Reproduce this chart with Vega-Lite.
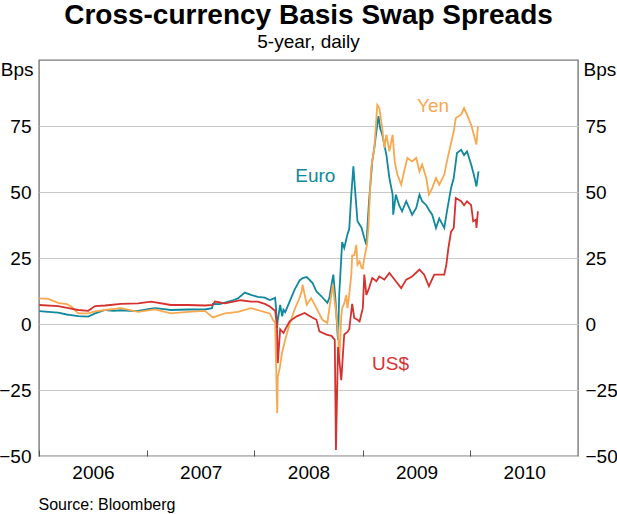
{
  "$schema": "https://vega.github.io/schema/vega-lite/v6.json",
  "width": 539,
  "height": 396,
  "autosize": {"type": "none"},
  "padding": {"left": 39, "top": 60, "right": 39, "bottom": 58},
  "background": "#ffffff",
  "title": {
    "text": "Cross-currency Basis Swap Spreads",
    "subtitle": "5-year, daily",
    "anchor": "middle",
    "frame": "group",
    "font": "Liberation Sans",
    "fontSize": 28,
    "fontWeight": "bold",
    "color": "#000000",
    "subtitleFont": "Liberation Sans",
    "subtitleFontSize": 19,
    "subtitleColor": "#000000",
    "subtitlePadding": 3,
    "offset": 8
  },
  "config": {
    "view": {"stroke": "#7a7a7a", "strokeWidth": 1.4},
    "axis": {
      "labelFont": "Liberation Sans",
      "titleFont": "Liberation Sans",
      "labelColor": "#000000",
      "titleColor": "#000000",
      "titleFontWeight": "normal"
    }
  },
  "datasets": {
    "series": [
      {"series": "Euro", "date": "2006-01-02", "value": 4.9},
      {"series": "Euro", "date": "2006-02-01", "value": 4.6},
      {"series": "Euro", "date": "2006-03-07", "value": 4.3},
      {"series": "Euro", "date": "2006-04-05", "value": 3.6},
      {"series": "Euro", "date": "2006-04-20", "value": 3.4},
      {"series": "Euro", "date": "2006-05-14", "value": 3.0},
      {"series": "Euro", "date": "2006-06-17", "value": 2.8},
      {"series": "Euro", "date": "2006-07-10", "value": 4.0},
      {"series": "Euro", "date": "2006-08-13", "value": 5.3},
      {"series": "Euro", "date": "2006-09-10", "value": 5.0},
      {"series": "Euro", "date": "2006-10-06", "value": 5.2},
      {"series": "Euro", "date": "2006-11-05", "value": 5.0},
      {"series": "Euro", "date": "2006-12-03", "value": 5.0},
      {"series": "Euro", "date": "2007-01-16", "value": 5.8},
      {"series": "Euro", "date": "2007-01-29", "value": 6.0},
      {"series": "Euro", "date": "2007-03-01", "value": 5.6},
      {"series": "Euro", "date": "2007-03-24", "value": 5.3},
      {"series": "Euro", "date": "2007-05-21", "value": 5.5},
      {"series": "Euro", "date": "2007-06-20", "value": 5.5},
      {"series": "Euro", "date": "2007-07-17", "value": 5.5},
      {"series": "Euro", "date": "2007-08-10", "value": 6.0},
      {"series": "Euro", "date": "2007-08-13", "value": 7.6},
      {"series": "Euro", "date": "2007-09-05", "value": 7.5},
      {"series": "Euro", "date": "2007-09-23", "value": 8.1},
      {"series": "Euro", "date": "2007-10-20", "value": 9.0},
      {"series": "Euro", "date": "2007-11-06", "value": 9.7},
      {"series": "Euro", "date": "2007-11-29", "value": 11.9},
      {"series": "Euro", "date": "2007-12-20", "value": 11.0},
      {"series": "Euro", "date": "2008-01-12", "value": 10.3},
      {"series": "Euro", "date": "2008-02-05", "value": 10.0},
      {"series": "Euro", "date": "2008-02-22", "value": 9.1},
      {"series": "Euro", "date": "2008-03-11", "value": 9.9},
      {"series": "Euro", "date": "2008-03-14", "value": 6.0},
      {"series": "Euro", "date": "2008-03-17", "value": -1.5},
      {"series": "Euro", "date": "2008-03-20", "value": 1.5},
      {"series": "Euro", "date": "2008-03-28", "value": 7.2},
      {"series": "Euro", "date": "2008-04-04", "value": 2.9},
      {"series": "Euro", "date": "2008-04-08", "value": 5.4},
      {"series": "Euro", "date": "2008-04-14", "value": 4.5},
      {"series": "Euro", "date": "2008-04-29", "value": 8.5},
      {"series": "Euro", "date": "2008-05-16", "value": 13.0},
      {"series": "Euro", "date": "2008-06-02", "value": 16.5},
      {"series": "Euro", "date": "2008-06-12", "value": 17.4},
      {"series": "Euro", "date": "2008-06-26", "value": 17.8},
      {"series": "Euro", "date": "2008-07-16", "value": 15.5},
      {"series": "Euro", "date": "2008-07-29", "value": 12.3},
      {"series": "Euro", "date": "2008-08-15", "value": 10.5},
      {"series": "Euro", "date": "2008-08-25", "value": 9.2},
      {"series": "Euro", "date": "2008-09-04", "value": 8.0},
      {"series": "Euro", "date": "2008-09-11", "value": 10.0},
      {"series": "Euro", "date": "2008-09-18", "value": 14.9},
      {"series": "Euro", "date": "2008-09-24", "value": 18.7},
      {"series": "Euro", "date": "2008-10-01", "value": 9.8},
      {"series": "Euro", "date": "2008-10-08", "value": -3.0},
      {"series": "Euro", "date": "2008-10-10", "value": -6.0},
      {"series": "Euro", "date": "2008-10-14", "value": 11.0},
      {"series": "Euro", "date": "2008-10-21", "value": 25.0},
      {"series": "Euro", "date": "2008-10-24", "value": 31.0},
      {"series": "Euro", "date": "2008-10-31", "value": 28.8},
      {"series": "Euro", "date": "2008-11-11", "value": 34.0},
      {"series": "Euro", "date": "2008-11-17", "value": 36.0},
      {"series": "Euro", "date": "2008-11-24", "value": 49.0},
      {"series": "Euro", "date": "2008-12-01", "value": 59.7},
      {"series": "Euro", "date": "2008-12-08", "value": 49.0},
      {"series": "Euro", "date": "2008-12-15", "value": 38.9},
      {"series": "Euro", "date": "2008-12-29", "value": 36.4},
      {"series": "Euro", "date": "2009-01-07", "value": 32.6},
      {"series": "Euro", "date": "2009-01-14", "value": 30.0},
      {"series": "Euro", "date": "2009-01-23", "value": 46.5},
      {"series": "Euro", "date": "2009-02-03", "value": 61.6},
      {"series": "Euro", "date": "2009-02-10", "value": 66.7},
      {"series": "Euro", "date": "2009-02-17", "value": 73.0},
      {"series": "Euro", "date": "2009-02-24", "value": 78.7},
      {"series": "Euro", "date": "2009-03-02", "value": 74.0},
      {"series": "Euro", "date": "2009-03-09", "value": 71.7},
      {"series": "Euro", "date": "2009-03-23", "value": 64.0},
      {"series": "Euro", "date": "2009-04-02", "value": 55.3},
      {"series": "Euro", "date": "2009-04-13", "value": 49.0},
      {"series": "Euro", "date": "2009-04-15", "value": 41.4},
      {"series": "Euro", "date": "2009-04-24", "value": 49.0},
      {"series": "Euro", "date": "2009-05-05", "value": 45.0},
      {"series": "Euro", "date": "2009-05-15", "value": 42.7},
      {"series": "Euro", "date": "2009-05-29", "value": 46.5},
      {"series": "Euro", "date": "2009-06-08", "value": 44.0},
      {"series": "Euro", "date": "2009-06-18", "value": 41.4},
      {"series": "Euro", "date": "2009-07-02", "value": 44.0},
      {"series": "Euro", "date": "2009-07-13", "value": 49.0},
      {"series": "Euro", "date": "2009-07-22", "value": 46.5},
      {"series": "Euro", "date": "2009-08-05", "value": 45.0},
      {"series": "Euro", "date": "2009-08-14", "value": 43.3},
      {"series": "Euro", "date": "2009-08-25", "value": 41.4},
      {"series": "Euro", "date": "2009-09-07", "value": 36.4},
      {"series": "Euro", "date": "2009-09-18", "value": 40.0},
      {"series": "Euro", "date": "2009-10-05", "value": 36.4},
      {"series": "Euro", "date": "2009-10-14", "value": 42.7},
      {"series": "Euro", "date": "2009-10-28", "value": 51.5},
      {"series": "Euro", "date": "2009-11-06", "value": 55.3},
      {"series": "Euro", "date": "2009-11-17", "value": 64.8},
      {"series": "Euro", "date": "2009-12-01", "value": 66.0},
      {"series": "Euro", "date": "2009-12-11", "value": 64.0},
      {"series": "Euro", "date": "2009-12-21", "value": 65.4},
      {"series": "Euro", "date": "2010-01-04", "value": 60.4},
      {"series": "Euro", "date": "2010-01-13", "value": 56.6},
      {"series": "Euro", "date": "2010-01-22", "value": 52.1},
      {"series": "Euro", "date": "2010-01-29", "value": 57.8},

      {"series": "Yen", "date": "2006-01-02", "value": 9.7},
      {"series": "Yen", "date": "2006-02-01", "value": 9.5},
      {"series": "Yen", "date": "2006-03-07", "value": 8.0},
      {"series": "Yen", "date": "2006-04-05", "value": 7.5},
      {"series": "Yen", "date": "2006-04-20", "value": 6.6},
      {"series": "Yen", "date": "2006-05-14", "value": 4.0},
      {"series": "Yen", "date": "2006-06-17", "value": 4.0},
      {"series": "Yen", "date": "2006-07-10", "value": 4.8},
      {"series": "Yen", "date": "2006-08-13", "value": 5.3},
      {"series": "Yen", "date": "2006-10-06", "value": 6.0},
      {"series": "Yen", "date": "2006-12-03", "value": 4.6},
      {"series": "Yen", "date": "2007-01-29", "value": 5.5},
      {"series": "Yen", "date": "2007-03-24", "value": 4.0},
      {"series": "Yen", "date": "2007-05-21", "value": 4.6},
      {"series": "Yen", "date": "2007-07-17", "value": 5.0},
      {"series": "Yen", "date": "2007-08-13", "value": 2.5},
      {"series": "Yen", "date": "2007-09-23", "value": 4.0},
      {"series": "Yen", "date": "2007-11-06", "value": 4.6},
      {"series": "Yen", "date": "2007-12-20", "value": 6.0},
      {"series": "Yen", "date": "2008-01-12", "value": 5.3},
      {"series": "Yen", "date": "2008-02-05", "value": 4.5},
      {"series": "Yen", "date": "2008-02-22", "value": 4.0},
      {"series": "Yen", "date": "2008-03-04", "value": 1.5},
      {"series": "Yen", "date": "2008-03-11", "value": 0.5},
      {"series": "Yen", "date": "2008-03-14", "value": -14.8},
      {"series": "Yen", "date": "2008-03-18", "value": -33.8},
      {"series": "Yen", "date": "2008-03-20", "value": -20.0},
      {"series": "Yen", "date": "2008-03-26", "value": -17.0},
      {"series": "Yen", "date": "2008-04-04", "value": -10.6},
      {"series": "Yen", "date": "2008-04-14", "value": -6.0},
      {"series": "Yen", "date": "2008-04-29", "value": 0.0},
      {"series": "Yen", "date": "2008-05-16", "value": 5.5},
      {"series": "Yen", "date": "2008-06-02", "value": 10.0},
      {"series": "Yen", "date": "2008-06-09", "value": 12.4},
      {"series": "Yen", "date": "2008-06-12", "value": 14.9},
      {"series": "Yen", "date": "2008-06-26", "value": 7.3},
      {"series": "Yen", "date": "2008-07-11", "value": 9.8},
      {"series": "Yen", "date": "2008-07-29", "value": 6.0},
      {"series": "Yen", "date": "2008-08-18", "value": 1.6},
      {"series": "Yen", "date": "2008-09-04", "value": 0.4},
      {"series": "Yen", "date": "2008-09-22", "value": 14.9},
      {"series": "Yen", "date": "2008-10-03", "value": 4.8},
      {"series": "Yen", "date": "2008-10-10", "value": -2.8},
      {"series": "Yen", "date": "2008-10-14", "value": -15.0},
      {"series": "Yen", "date": "2008-10-21", "value": 3.0},
      {"series": "Yen", "date": "2008-10-24", "value": 6.0},
      {"series": "Yen", "date": "2008-10-31", "value": 7.8},
      {"series": "Yen", "date": "2008-11-07", "value": 11.0},
      {"series": "Yen", "date": "2008-11-11", "value": 6.0},
      {"series": "Yen", "date": "2008-11-17", "value": 11.0},
      {"series": "Yen", "date": "2008-11-24", "value": 18.7},
      {"series": "Yen", "date": "2008-11-27", "value": 26.0},
      {"series": "Yen", "date": "2008-12-04", "value": 26.0},
      {"series": "Yen", "date": "2008-12-11", "value": 30.0},
      {"series": "Yen", "date": "2008-12-15", "value": 22.5},
      {"series": "Yen", "date": "2008-12-22", "value": 23.7},
      {"series": "Yen", "date": "2008-12-29", "value": 21.2},
      {"series": "Yen", "date": "2009-01-02", "value": 21.0},
      {"series": "Yen", "date": "2009-01-07", "value": 25.0},
      {"series": "Yen", "date": "2009-01-14", "value": 28.8},
      {"series": "Yen", "date": "2009-01-16", "value": 30.0},
      {"series": "Yen", "date": "2009-01-21", "value": 36.4},
      {"series": "Yen", "date": "2009-01-30", "value": 59.0},
      {"series": "Yen", "date": "2009-02-10", "value": 66.7},
      {"series": "Yen", "date": "2009-02-20", "value": 83.0},
      {"series": "Yen", "date": "2009-02-27", "value": 81.8},
      {"series": "Yen", "date": "2009-03-09", "value": 74.0},
      {"series": "Yen", "date": "2009-03-16", "value": 66.7},
      {"series": "Yen", "date": "2009-03-23", "value": 71.7},
      {"series": "Yen", "date": "2009-04-02", "value": 65.4},
      {"series": "Yen", "date": "2009-04-13", "value": 71.7},
      {"series": "Yen", "date": "2009-04-20", "value": 61.6},
      {"series": "Yen", "date": "2009-04-29", "value": 56.6},
      {"series": "Yen", "date": "2009-05-12", "value": 52.8},
      {"series": "Yen", "date": "2009-05-22", "value": 57.8},
      {"series": "Yen", "date": "2009-06-02", "value": 62.9},
      {"series": "Yen", "date": "2009-06-18", "value": 61.6},
      {"series": "Yen", "date": "2009-07-02", "value": 62.9},
      {"series": "Yen", "date": "2009-07-13", "value": 57.8},
      {"series": "Yen", "date": "2009-07-22", "value": 60.4},
      {"series": "Yen", "date": "2009-08-05", "value": 55.3},
      {"series": "Yen", "date": "2009-08-14", "value": 49.0},
      {"series": "Yen", "date": "2009-08-25", "value": 51.5},
      {"series": "Yen", "date": "2009-09-07", "value": 55.3},
      {"series": "Yen", "date": "2009-09-18", "value": 52.8},
      {"series": "Yen", "date": "2009-10-05", "value": 56.6},
      {"series": "Yen", "date": "2009-10-14", "value": 61.6},
      {"series": "Yen", "date": "2009-10-28", "value": 68.6},
      {"series": "Yen", "date": "2009-11-06", "value": 73.0},
      {"series": "Yen", "date": "2009-11-13", "value": 78.0},
      {"series": "Yen", "date": "2009-12-01", "value": 79.3},
      {"series": "Yen", "date": "2009-12-11", "value": 81.8},
      {"series": "Yen", "date": "2009-12-21", "value": 79.3},
      {"series": "Yen", "date": "2010-01-04", "value": 75.5},
      {"series": "Yen", "date": "2010-01-13", "value": 71.7},
      {"series": "Yen", "date": "2010-01-22", "value": 68.0},
      {"series": "Yen", "date": "2010-01-27", "value": 74.9},

      {"series": "US$", "date": "2006-01-02", "value": 7.2},
      {"series": "US$", "date": "2006-03-07", "value": 6.8},
      {"series": "US$", "date": "2006-04-20", "value": 5.8},
      {"series": "US$", "date": "2006-05-14", "value": 5.3},
      {"series": "US$", "date": "2006-06-17", "value": 5.0},
      {"series": "US$", "date": "2006-07-10", "value": 6.8},
      {"series": "US$", "date": "2006-08-13", "value": 7.0},
      {"series": "US$", "date": "2006-10-06", "value": 7.6},
      {"series": "US$", "date": "2006-12-03", "value": 7.8},
      {"series": "US$", "date": "2007-01-16", "value": 8.5},
      {"series": "US$", "date": "2007-03-24", "value": 7.2},
      {"series": "US$", "date": "2007-05-21", "value": 7.2},
      {"series": "US$", "date": "2007-07-17", "value": 7.0},
      {"series": "US$", "date": "2007-08-13", "value": 7.2},
      {"series": "US$", "date": "2007-08-20", "value": 8.5},
      {"series": "US$", "date": "2007-09-23", "value": 7.8},
      {"series": "US$", "date": "2007-11-16", "value": 9.0},
      {"series": "US$", "date": "2007-12-20", "value": 8.5},
      {"series": "US$", "date": "2008-01-12", "value": 8.5},
      {"series": "US$", "date": "2008-02-05", "value": 7.6},
      {"series": "US$", "date": "2008-02-22", "value": 6.6},
      {"series": "US$", "date": "2008-03-11", "value": 5.0},
      {"series": "US$", "date": "2008-03-17", "value": 0.0},
      {"series": "US$", "date": "2008-03-20", "value": -14.8},
      {"series": "US$", "date": "2008-03-28", "value": -2.0},
      {"series": "US$", "date": "2008-04-08", "value": -3.4},
      {"series": "US$", "date": "2008-04-29", "value": 1.0},
      {"series": "US$", "date": "2008-05-23", "value": 2.9},
      {"series": "US$", "date": "2008-06-19", "value": 4.2},
      {"series": "US$", "date": "2008-07-07", "value": 2.9},
      {"series": "US$", "date": "2008-07-29", "value": 1.6},
      {"series": "US$", "date": "2008-08-08", "value": -2.8},
      {"series": "US$", "date": "2008-09-01", "value": -4.0},
      {"series": "US$", "date": "2008-09-18", "value": -4.5},
      {"series": "US$", "date": "2008-09-29", "value": -6.0},
      {"series": "US$", "date": "2008-10-03", "value": -47.7},
      {"series": "US$", "date": "2008-10-10", "value": -8.7},
      {"series": "US$", "date": "2008-10-21", "value": -21.3},
      {"series": "US$", "date": "2008-10-31", "value": -4.0},
      {"series": "US$", "date": "2008-11-11", "value": -3.0},
      {"series": "US$", "date": "2008-11-17", "value": -2.0},
      {"series": "US$", "date": "2008-11-24", "value": 4.8},
      {"series": "US$", "date": "2008-11-27", "value": 7.6},
      {"series": "US$", "date": "2008-12-04", "value": 2.3},
      {"series": "US$", "date": "2008-12-15", "value": 1.6},
      {"series": "US$", "date": "2008-12-22", "value": 1.0},
      {"series": "US$", "date": "2009-01-02", "value": 6.0},
      {"series": "US$", "date": "2009-01-07", "value": 18.7},
      {"series": "US$", "date": "2009-01-14", "value": 11.0},
      {"series": "US$", "date": "2009-01-23", "value": 13.6},
      {"series": "US$", "date": "2009-02-03", "value": 17.4},
      {"series": "US$", "date": "2009-02-17", "value": 16.2},
      {"series": "US$", "date": "2009-02-27", "value": 18.0},
      {"series": "US$", "date": "2009-03-16", "value": 16.8},
      {"series": "US$", "date": "2009-04-02", "value": 19.3},
      {"series": "US$", "date": "2009-04-24", "value": 16.2},
      {"series": "US$", "date": "2009-05-12", "value": 13.6},
      {"series": "US$", "date": "2009-05-29", "value": 16.8},
      {"series": "US$", "date": "2009-06-18", "value": 18.0},
      {"series": "US$", "date": "2009-07-13", "value": 20.6},
      {"series": "US$", "date": "2009-07-29", "value": 18.7},
      {"series": "US$", "date": "2009-08-14", "value": 14.3},
      {"series": "US$", "date": "2009-09-01", "value": 18.7},
      {"series": "US$", "date": "2009-09-18", "value": 18.7},
      {"series": "US$", "date": "2009-10-05", "value": 18.7},
      {"series": "US$", "date": "2009-10-12", "value": 22.5},
      {"series": "US$", "date": "2009-10-19", "value": 28.8},
      {"series": "US$", "date": "2009-10-28", "value": 35.0},
      {"series": "US$", "date": "2009-11-06", "value": 36.4},
      {"series": "US$", "date": "2009-11-13", "value": 47.7},
      {"series": "US$", "date": "2009-12-01", "value": 46.5},
      {"series": "US$", "date": "2009-12-11", "value": 45.0},
      {"series": "US$", "date": "2009-12-21", "value": 46.5},
      {"series": "US$", "date": "2010-01-04", "value": 45.0},
      {"series": "US$", "date": "2010-01-11", "value": 38.9},
      {"series": "US$", "date": "2010-01-20", "value": 39.5},
      {"series": "US$", "date": "2010-01-22", "value": 36.4},
      {"series": "US$", "date": "2010-01-27", "value": 42.7}
    ],
    "labels": [
      {"label": "Euro", "date": "2008-07-25", "value": 56.2},
      {"label": "Yen", "date": "2009-08-28", "value": 82.7},
      {"label": "US$", "date": "2009-04-06", "value": -15}
    ]
  },
  "layer": [
    {
      "mark": {"type": "rule", "color": "#000000", "strokeWidth": 1},
      "encoding": {
        "y": {
          "datum": 0,
          "type": "quantitative",
          "scale": {"domain": [-50, 100], "nice": false, "zero": false},
          "axis": {
            "orient": "right",
            "values": [-50, -25, 0, 25, 50, 75],
            "title": "Bps",
            "titleAngle": 0,
            "titleAlign": "left",
            "titleBaseline": "alphabetic",
            "titleX": 5,
            "titleY": 15,
            "titleFontSize": 19,
            "labelFontSize": 19,
            "labelPadding": 7,
            "ticks": false,
            "domain": false,
            "grid": false
          }
        }
      }
    },
    {
      "data": {"name": "series"},
      "mark": {"type": "line", "strokeWidth": 1.8},
      "encoding": {
        "x": {
          "field": "date",
          "type": "temporal",
          "scale": {
            "type": "utc",
            "domain": [
              {"year": 2006, "month": 1, "date": 1, "utc": true},
              {"year": 2011, "month": 1, "date": 1, "utc": true}
            ]
          },
          "axis": {
            "values": [
              {"year": 2006, "month": 1, "date": 1, "utc": true},
              {"year": 2007, "month": 1, "date": 1, "utc": true},
              {"year": 2008, "month": 1, "date": 1, "utc": true},
              {"year": 2009, "month": 1, "date": 1, "utc": true},
              {"year": 2010, "month": 1, "date": 1, "utc": true}
            ],
            "format": "%Y",
            "labelOffset": 54,
            "labelFlush": false,
            "labelFontSize": 19,
            "labelPadding": 13,
            "tickSize": -6,
            "tickColor": "#555555",
            "domain": false,
            "grid": false,
            "title": "Source: Bloomberg",
            "titleAnchor": "start",
            "titleAlign": "left",
            "titleBaseline": "alphabetic",
            "titleX": -1,
            "titleY": 53,
            "titleFontSize": 16
          }
        },
        "y": {
          "field": "value",
          "type": "quantitative",
          "scale": {"domain": [-50, 100], "nice": false, "zero": false},
          "axis": {
            "orient": "left",
            "values": [-50, -25, 0, 25, 50, 75],
            "title": "Bps",
            "titleAngle": 0,
            "titleAlign": "right",
            "titleBaseline": "alphabetic",
            "titleX": -6,
            "titleY": 15,
            "titleFontSize": 19,
            "labelFontSize": 19,
            "labelPadding": 8,
            "ticks": false,
            "domain": false,
            "grid": true,
            "gridColor": "#c8c8c8",
            "gridWidth": 1
          }
        },
        "color": {
          "field": "series",
          "type": "nominal",
          "scale": {"domain": ["Euro", "Yen", "US$"], "range": ["#10899e", "#f8a84f", "#d5322f"]},
          "legend": null
        }
      }
    },
    {
      "data": {"name": "labels"},
      "mark": {"type": "text", "font": "Liberation Sans", "fontSize": 19},
      "encoding": {
        "x": {"field": "date", "type": "temporal"},
        "y": {
          "field": "value",
          "type": "quantitative",
          "scale": {"domain": [-50, 100], "nice": false, "zero": false},
          "axis": null
        },
        "text": {"field": "label"},
        "color": {"field": "label", "type": "nominal", "legend": null}
      }
    }
  ],
  "resolve": {"scale": {"y": "independent"}}
}
